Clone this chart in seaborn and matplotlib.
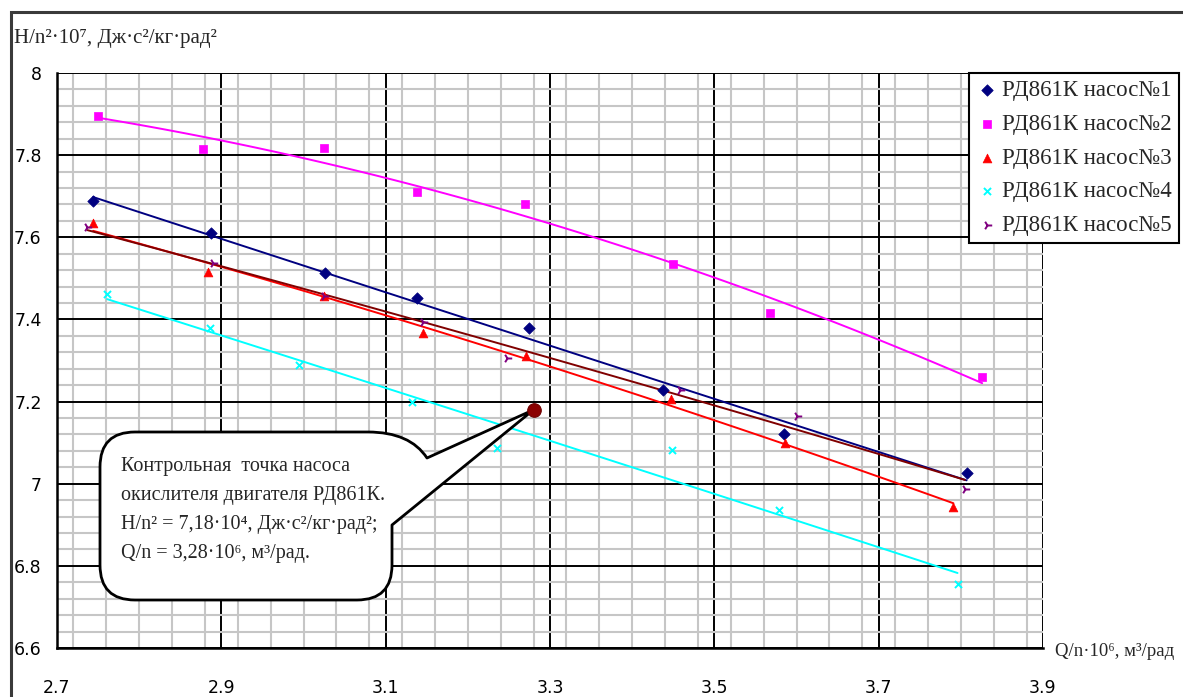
import numpy as np
import pandas as pd
import matplotlib
matplotlib.use("Agg")
import matplotlib.pyplot as plt
import seaborn as sns
from matplotlib.path import Path
from matplotlib.patches import PathPatch, Rectangle
from matplotlib.ticker import MultipleLocator, FuncFormatter

# ---------------- data ----------------
labels = ["РД861К насос№1", "РД861К насос№2", "РД861К насос№3",
          "РД861К насос№4", "РД861К насос№5"]
q1 = [2.744, 2.887, 3.026, 3.138, 3.275, 3.438, 3.585, 3.807]
h1 = [7.688, 7.610, 7.512, 7.451, 7.380, 7.227, 7.122, 7.027]
q2 = [2.750, 2.878, 3.025, 3.138, 3.270, 3.450, 3.568, 3.826]
h2 = [7.895, 7.815, 7.817, 7.710, 7.680, 7.534, 7.415, 7.261]
q3 = [2.744, 2.884, 3.025, 3.146, 3.271, 3.447, 3.586, 3.791]
h3 = [7.634, 7.515, 7.456, 7.366, 7.312, 7.207, 7.098, 6.944]
q4 = [2.761, 2.886, 2.995, 3.132, 3.236, 3.449, 3.579, 3.796]
h4 = [7.463, 7.380, 7.288, 7.198, 7.088, 7.083, 6.937, 6.756]
q5 = [2.737, 2.890, 3.025, 3.146, 3.248, 3.458, 3.601, 3.805]
h5 = [7.624, 7.537, 7.456, 7.393, 7.307, 7.227, 7.166, 6.988]
q_ctrl = [3.28]
h_ctrl = [7.18]
x_ticks = [2.7, 2.9, 3.1, 3.3, 3.5, 3.7, 3.9]
y_ticks = [6.6, 6.8, 7.0, 7.2, 7.4, 7.6, 7.8, 8.0]

callout_text = ("Контрольная  точка насоса\n"
                "окислителя двигателя РД861К.\n"
                "H/n² = 7,18·10⁴, Дж·с²/кг·рад²;\n"
                "Q/n = 3,28·10⁶, м³/рад.")
ylabel = "H/n²·10⁷, Дж·с²/кг·рад²"
xlabel = "Q/n·10⁶, м³/рад"

# ---------------- style ----------------
sns.set_style("white")
SERIF = ["Liberation Serif", "DejaVu Serif"]
SANS = ["DejaVu Sans"]
plt.rcParams["font.family"] = SANS

series = [
    (q1, h1, "#000080", "#000080", "D", 34),
    (q2, h2, "#FF00FF", "#FF00FF", "s", 36),
    (q3, h3, "#FF0000", "#FF0000", "^", 40),
    (q4, h4, "#00FFFF", "#00FFFF", "x", 26),
    (q5, h5, "#800080", "#800000", "4", 46),
]

W, H = 1183, 697
fig = plt.figure(figsize=(W / 100, H / 100), dpi=100)
fig.patch.set_facecolor("white")
AX_L, AX_R, AX_T, AX_B = 57, 1043, 73, 648
ax = fig.add_axes([AX_L / W, 1 - AX_B / H, (AX_R - AX_L) / W, (AX_B - AX_T) / H])
ax.set_facecolor("white")

# outer chart border
fig.patches.append(Rectangle((11 / W, -0.05), 1.2, 1 - 12 / H + 0.05,
                             transform=fig.transFigure, fill=False,
                             edgecolor="#3a3a3a", linewidth=2.2, zorder=0))

ax.set_xlim(2.7, 3.9)
ax.set_ylim(6.6, 8.0)
ax.xaxis.set_minor_locator(MultipleLocator(0.04))
ax.yaxis.set_minor_locator(MultipleLocator(0.04))
ax.set_xticks(x_ticks)
ax.set_yticks(y_ticks)
fmt = FuncFormatter(lambda v, p: f"{v:g}")
ax.xaxis.set_major_formatter(fmt)
ax.yaxis.set_major_formatter(fmt)

ax.set_axisbelow(True)
ax.grid(which="minor", color="#c6c6c6", linewidth=1.5, zorder=0)
ax.grid(which="major", color="black", linewidth=1.4, zorder=0.5)
for s in ["top", "right"]:
    ax.spines[s].set_visible(False)
for s in ["left", "bottom"]:
    ax.spines[s].set_color("black")
    ax.spines[s].set_linewidth(1.8)
ax.tick_params(which="major", direction="out", length=5, width=1.5, color="black",
               labelsize=12.5, labelcolor="black")
ax.tick_params(axis="x", which="major", pad=17)
ax.tick_params(axis="y", which="major", pad=6)
ax.tick_params(which="minor", length=0)

# trend lines (quadratic fits, like Excel polynomial trendlines)
for (q, h, mc, lc, mk, sz) in series:
    sns.regplot(x=np.array(q), y=np.array(h), order=2, ci=None, scatter=False,
                truncate=True, ax=ax, line_kws=dict(color=lc, linewidth=1.4, zorder=3))

# markers
for (q, h, mc, lc, mk, sz), lab in zip(series, labels):
    if mk in ("x", "4"):
        sns.scatterplot(x=q, y=h, marker=mk, color=mc, s=sz, linewidth=1.4,
                        ax=ax, label=lab, zorder=4)
    else:
        sns.scatterplot(x=q, y=h, marker=mk, color=mc, s=sz, edgecolor=mc,
                        linewidth=0.5, ax=ax, label=lab, zorder=4)

# callout balloon pointing at control point
def fx(px):
    return 2.7 + (px - AX_L) / (AX_R - AX_L) * 1.2

def fy(py):
    return 8.0 - (py - AX_T) / (AX_B - AX_T) * 1.4

tip = (q_ctrl[0], h_ctrl[0])
verts = [
    (fx(135), fy(432)),
    (fx(368), fy(432)),
    (fx(410), fy(432)), (fx(427), fy(458)),
    tip,
    (fx(392), fy(525)),
    (fx(392), fy(565)),
    (fx(392), fy(600)), (fx(357), fy(600)),
    (fx(135), fy(600)),
    (fx(100), fy(600)), (fx(100), fy(565)),
    (fx(100), fy(467)),
    (fx(100), fy(432)), (fx(135), fy(432)),
    (fx(135), fy(432)),
]
codes = [Path.MOVETO, Path.LINETO, Path.CURVE3, Path.CURVE3, Path.LINETO,
         Path.LINETO, Path.LINETO, Path.CURVE3, Path.CURVE3, Path.LINETO,
         Path.CURVE3, Path.CURVE3, Path.LINETO, Path.CURVE3, Path.CURVE3,
         Path.CLOSEPOLY]
ax.add_patch(PathPatch(Path(verts, codes), facecolor="white", edgecolor="black",
                       linewidth=2.0, zorder=6, joinstyle="round"))
ax.text(fx(121), fy(457), callout_text, family=SERIF, fontsize=14.5,
        va="top", ha="left", linespacing=1.72, zorder=7)

# control point
sns.scatterplot(x=q_ctrl, y=h_ctrl, marker="o", color="#8B0000", s=95,
                edgecolor="#6e0000", linewidth=0.8, ax=ax, zorder=8,
                label="_nolegend_")

# legend
leg = ax.legend(loc="upper right", bbox_to_anchor=(1179 / W, 1 - 73 / H),
                bbox_transform=fig.transFigure, frameon=True, fancybox=False,
                framealpha=1, edgecolor="black", borderpad=0.32,
                labelspacing=0.55, handletextpad=0.2, handlelength=0.9,
                borderaxespad=0, prop=dict(family=SERIF, size=16.5))
leg.get_frame().set_linewidth(1.5)
leg.set_zorder(10)

# axis titles
fig.text(14 / W, 1 - 38 / H, ylabel, family=SERIF, fontsize=15,
         ha="left", va="center")
fig.text(1055 / W, 1 - 651 / H, xlabel, family=SERIF, fontsize=13.5,
         ha="left", va="center")

fig.savefig("out.png", dpi=100, facecolor="white")
